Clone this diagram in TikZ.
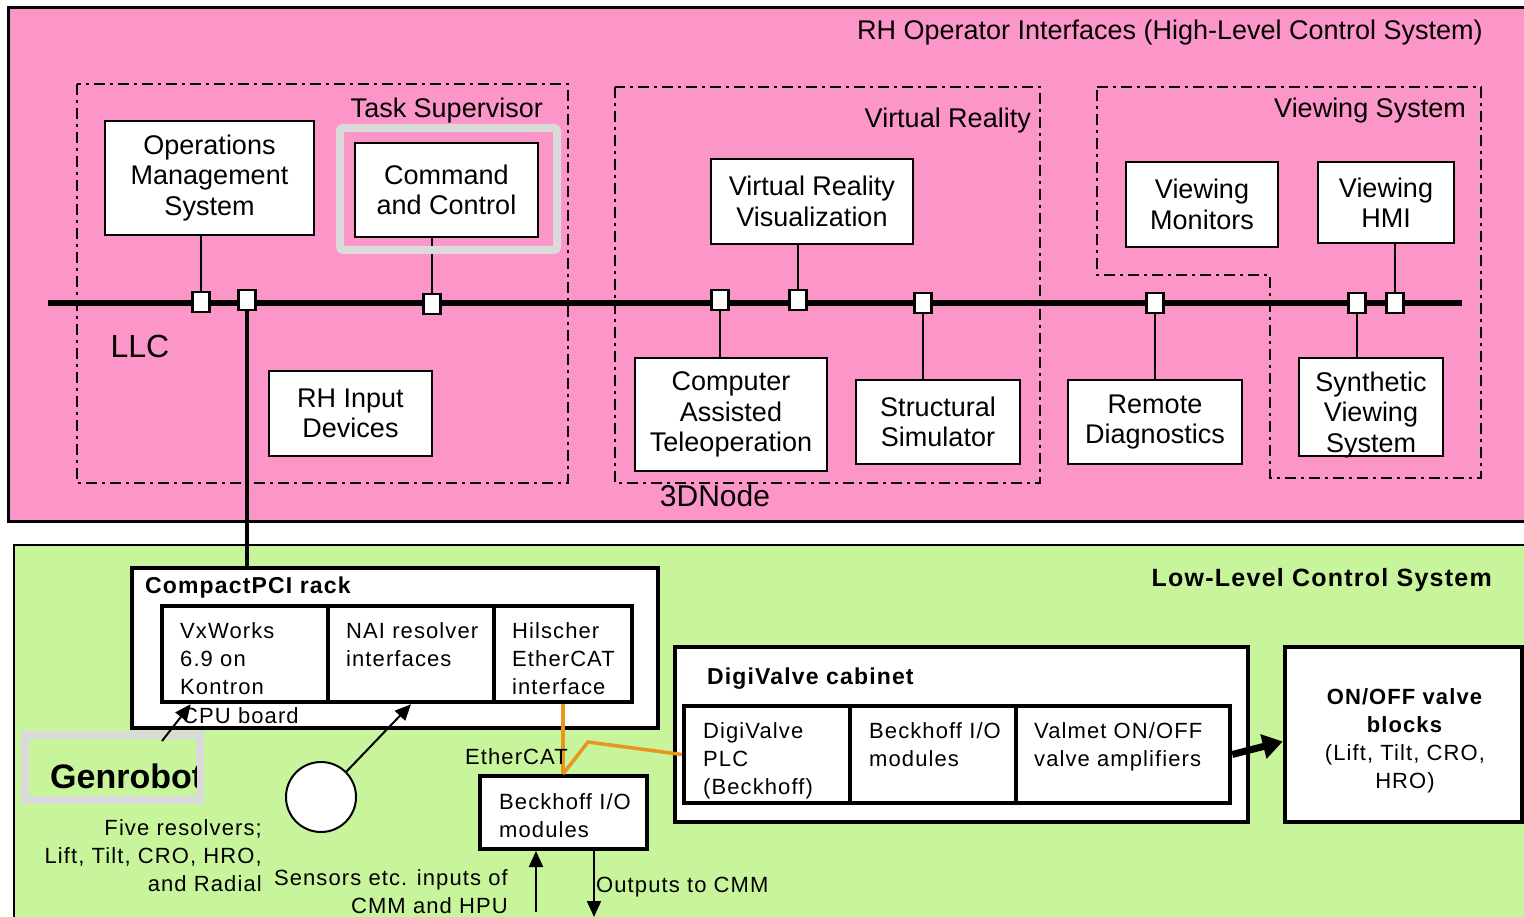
\documentclass[tikz,border=0pt]{standalone}
\usepackage{fontspec}
\setmainfont{Liberation Sans}
\usetikzlibrary{arrows.meta}

\definecolor{hlspink}{RGB}{252,150,200}
\definecolor{llsgreen}{RGB}{200,244,156}
\definecolor{hilite}{RGB}{218,218,218}
\definecolor{ecat}{RGB}{232,150,30}

\newfontfamily\spacedfont[LetterSpace=5]{Liberation Sans}

\tikzset{
  box/.style={draw, fill=white, line width=2.5pt, inner sep=0pt, align=center, font=\fontsize{27}{30.5}\selectfont},
  port/.style={draw, fill=white, line width=2.5pt, minimum width=17pt, minimum height=20pt, inner sep=0pt},
  group/.style={line width=2.8pt, dash pattern=on 11pt off 5pt on 3pt off 5pt},
  link/.style={line width=1.5pt},
  frame/.style={draw, fill=white, line width=4.5pt, inner sep=0pt},
  cell/.style={draw, line width=4.5pt, inner sep=0pt},
  lbl/.style={inner sep=0pt, align=left, font=\spacedfont\fontsize{22}{28}\selectfont},
  toplbl/.style={inner sep=0pt, font=\fontsize{27}{30}\selectfont},
  bold/.style={inner sep=0pt, font=\spacedfont\fontsize{23}{28}\selectfont\bfseries},
  arr/.style={line width=2pt, -{Triangle[length=16pt,width=14pt]}},
}

\begin{document}
\begin{tikzpicture}[x=1pt,y=-1pt]

\useasboundingbox[fill=white] (0,0) rectangle (1524,917);

%% high-level control system
\draw[line width=3pt, fill=hlspink] (8,8) rectangle (1540,521);
\node[toplbl, anchor=east] (hlcs) at (1483,33) {RH Operator Interfaces (High-Level Control System)};

\draw[group] (77,84) rectangle (568,483);
\node[toplbl, anchor=east] (ts-lbl) at (543,111) {Task Supervisor};
\draw[group] (615,87) rectangle (1040,483);
\node[toplbl, anchor=east] (vr-lbl) at (1031,121) {Virtual Reality};
\draw[group] (1097,87) -- (1481,87) -- (1481,478) -- (1270,478) -- (1270,275) -- (1097,275) -- cycle;
\node[toplbl, anchor=east] (vs-lbl) at (1466,111) {Viewing System};

\node[box, minimum width=209pt, minimum height=114pt] (oms) at (209.5,178) {Operations\\Management\\System};
\node[box, minimum width=183pt, minimum height=94pt] (cc) at (446.5,190) {Command\\and Control};
\node[box, minimum width=163pt, minimum height=85pt] (rhid) at (350.5,413.5) {RH Input\\Devices};
\node[box, minimum width=202pt, minimum height=85pt] (vrv) at (812,201.5) {Virtual Reality\\Visualization};
\node[box, minimum width=192pt, minimum height=113pt] (cat) at (731,414.5) {Computer\\Assisted\\Teleoperation};
\node[box, minimum width=164pt, minimum height=84pt] (ss) at (938,422) {Structural\\Simulator};
\node[box, minimum width=152pt, minimum height=85pt] (vm) at (1202,204.5) {Viewing\\Monitors};
\node[box, minimum width=136pt, minimum height=81pt] (vhmi) at (1386,202.5) {Viewing\\HMI};
\node[box, minimum width=174pt, minimum height=84pt] (rd) at (1155,422) {Remote\\Diagnostics};
\node[box, minimum width=144pt, minimum height=98pt] (svs) at (1371,407) {};
\node[box, fill=none, draw=none] (svs-t) at (1371,415) {Synthetic\\Viewing\\System};

\node[inner sep=0pt, font=\fontsize{32}{34}\selectfont] (llc) at (140,346) {LLC};
\node[inner sep=0pt, font=\fontsize{30}{34}\selectfont] (node3d) at (715,496) {3DNode};

% bus and its ports
\draw[line width=6pt] (48,303) -- (1462,303);
\node[port] (p1) at (201,302) {};
\node[port] (p2) at (247,300) {};
\node[port] (p3) at (432,304) {};
\node[port] (p4) at (720,300) {};
\node[port] (p5) at (798,300) {};
\node[port] (p6) at (923,303) {};
\node[port] (p7) at (1155,303) {};
\node[port] (p8) at (1357,303) {};
\node[port] (p9) at (1395,303) {};

\draw[link] (p1 |- oms.south) -- (p1.north);
\draw[link] (p3 |- cc.south) -- (p3.north);
\draw[link] (p5 |- vrv.south) -- (p5.north);
\draw[link] (p4.south) -- (p4 |- cat.north);
\draw[link] (p6.south) -- (p6 |- ss.north);
\draw[link] (p7.south) -- (p7 |- rd.north);
\draw[link] (p8.south) -- (p8 |- svs.north);
\draw[link] (p9 |- vhmi.south) -- (p9.north);

\draw[hilite, line width=8pt, rounded corners=3pt] (340,128) rectangle (557,250);

%% low-level control system
\draw[line width=2pt, fill=llsgreen] (14,545) rectangle (1540,940);
\node[bold, font=\spacedfont\fontsize{25}{30}\selectfont\bfseries, anchor=east] (llcs) at (1492,580) {Low-Level Control System};

\node[frame, minimum width=526pt, minimum height=160pt] (rack) at (395,648) {};
\draw[line width=3.5pt] (p2.south) -- (p2 |- rack.north);
\node[bold, anchor=west] (rack-lbl) at (145,588) {CompactPCI rack};
\node[cell, minimum width=166pt, minimum height=96pt] (vx) at (245,654) {};
\node[cell, minimum width=166pt, minimum height=96pt] (nai) at (411,654) {};
\node[cell, minimum width=138pt, minimum height=96pt] (hil) at (563,654) {};
\node[lbl, anchor=north west] (vx-t) at (180,622) {VxWorks\\6.9 on\\Kontron};
\node[lbl, anchor=north west] (nai-t) at (346,622) {NAI resolver\\interfaces};
\node[lbl, anchor=north west] (hil-t) at (512,622) {Hilscher\\EtherCAT\\interface};
\node[lbl, anchor=west] (cpu) at (182,716) {CPU board};

\node[draw=hilite, fill=llsgreen, line width=8pt, minimum width=175pt, minimum height=65pt] (gen) at (112.5,767.5) {};
\begin{scope}
  \clip (29,739) rectangle (196,796);
  \node[inner sep=0pt, anchor=west, font=\fontsize{34}{36}\selectfont\bfseries] (gen-t) at (50,776) {Genrobot};
\end{scope}
\coordinate (gen-out) at (162,741);
\draw[arr] (gen-out) -- ([xshift=31pt]vx.south west);

\node[draw, circle, fill=white, line width=2pt, minimum size=70pt, inner sep=0pt] (res) at (321,797) {};
\draw[arr] (res.45) -- (nai.south);

\node[lbl, align=right, anchor=north east] (res-t) at (262,819) {Five resolvers;\\Lift, Tilt, CRO, HRO,\\and Radial};
\node[lbl, align=right, anchor=north east] (sens-t) at (508,869) {Sensors etc. inputs of\\CMM and HPU};

\node[frame, line width=4pt, minimum width=167pt, minimum height=73pt] (beck) at (563,812.5) {};
\node[lbl, anchor=north west] (beck-t) at (499,793) {Beckhoff I/O\\modules};

\coordinate (sens-in) at (536,912);
\coordinate (cmm-out) at (594,917);
\draw[arr] (sens-in) -- (sens-in |- beck.south);
\draw[arr] (beck.south -| cmm-out) -- (cmm-out);
\node[lbl, anchor=west] (cmm-t) at (596,887) {Outputs to CMM};

\node[frame, minimum width=573pt, minimum height=175pt] (dvc) at (961.5,734.5) {};
\node[bold, anchor=west] (dvc-lbl) at (707,679) {DigiValve cabinet};
\node[cell, minimum width=166pt, minimum height=97pt] (plc) at (767,754.5) {};
\node[cell, minimum width=166pt, minimum height=97pt] (dvio) at (933,754.5) {};
\node[cell, minimum width=214pt, minimum height=97pt] (valmet) at (1123,754.5) {};
\node[lbl, anchor=north west] (plc-t) at (703,722) {DigiValve\\PLC\\(Beckhoff)};
\node[lbl, anchor=north west] (dvio-t) at (869,722) {Beckhoff I/O\\modules};
\node[lbl, anchor=north west] (valmet-t) at (1034,722) {Valmet ON/OFF\\valve amplifiers};

% EtherCAT link
\draw[ecat, line width=3.5pt] (hil.south) -- (beck.north);
\draw[ecat, line width=3.5pt] (beck.north) -- (588,742) -- (plc.west);
\node[lbl, anchor=east] (ecat-lbl) at (568,757) {EtherCAT};

\node[frame, minimum width=237pt, minimum height=175pt] (onoff) at (1403.5,734.5) {};
\node[lbl, align=center] (onoff-t) at (1405,741) {\textbf{ON/OFF valve}\\\textbf{blocks}\\(Lift, Tilt, CRO,\\HRO)};
\draw[line width=7pt, -{Triangle[length=20pt,width=24pt]}] (valmet.east) -- ([yshift=-7pt]onoff.west);

\end{tikzpicture}
\end{document}
